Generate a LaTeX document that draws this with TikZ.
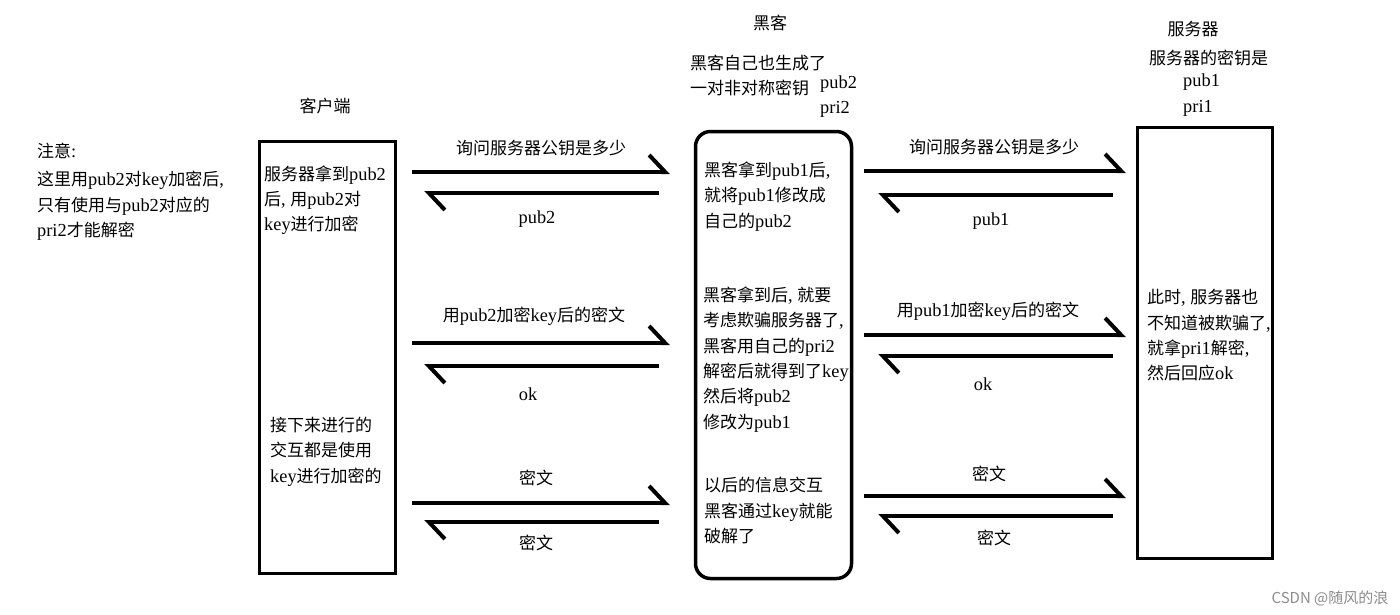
\documentclass[tikz,border=0pt]{standalone}
\usepackage{fontspec}
\setmainfont{Liberation Serif}[Scale=1.08]
\newfontfamily\cjk{Noto Sans CJK SC}
\usetikzlibrary{arrows.meta}
% Han characters are set in \cjk, everything else in the main font
\newXeTeXintercharclass\hanclass
\count255="4E00
\loop\ifnum\count255<"A000
  \XeTeXcharclass\count255=\hanclass
  \advance\count255 by 1
\repeat
\XeTeXinterchartoks 0 \hanclass = {\cjk}
\XeTeXinterchartoks 4095 \hanclass = {\cjk}
\XeTeXinterchartoks \hanclass 0 = {\rmfamily}
\XeTeXinterchartoks 4095 0 = {\rmfamily}
\XeTeXinterchartokenstate=1
\newcommand\markfont{\XeTeXinterchartokenstate=0\relax\cjk\fontsize{15}{15}\selectfont}

\begin{document}
\begin{tikzpicture}[x=1pt, y=-1pt,
  every node/.style={inner sep=0pt, font=\fontsize{17}{25.3}\selectfont},
  txt/.style={align=left, anchor=west},
  party/.style={draw, line width=3.5pt, inner sep=0pt},
  msg/.style={line width=4pt, -{Straight Barb[harpoon, length=16pt, width=34pt]}},
  toh/.style={msg, shorten <=15pt, shorten >=24pt},
  toc/.style={msg, shorten <=35pt, shorten >=27pt},
  tos/.style={msg, shorten <=11pt, shorten >=10pt},
  fromS/.style={msg, shorten <=23pt, shorten >=25pt}]
  \useasboundingbox (0,0) rectangle (1400,614);
  % the three parties
  \node[party, minimum width=136, minimum height=432] (client) at (327.5,357.5) {};
  \node[party, rounded corners=15pt, minimum width=156, minimum height=447] (hacker) at (773.5,355) {};
  \node[party, minimum width=135, minimum height=431] (server) at (1205,343) {};
  \node (clientname) at (325,106) {客户端};
  \node (hackername) at (770,23) {黑客};
  \node (servername) at (1193,29) {服务器};
  \node[txt] (hackerkeys) at (690,75.5) {黑客自己也生成了\\一对非对称密钥};
  \node[txt] (hackerpair) at (820,96.5) {pub2\\pri2};
  \node (serverkeys) at (1208.5,58) {服务器的密钥是};
  \node[txt] (serverpair) at (1183,95) {pub1\\pri1};
  % note on the left
  \node[txt] (notehead) at (37,151) {注意:};
  \node[txt] (note) at (37,206) {这里用pub2对key加密后,\\只有使用与pub2对应的\\pri2才能解密};
  % texts in the boxes
  \node[txt] (clientnote1) at (264,200) {服务器拿到pub2\\后, 用pub2对\\key进行加密};
  \node[txt] (clientnote2) at (270,451.5) {接下来进行的\\交互都是使用\\key进行加密的};
  \node[txt] (hackernote1) at (704,196.5) {黑客拿到pub1后,\\就将pub1修改成\\自己的pub2};
  \node[txt] (hackernote2) at (703,359.5) {黑客拿到后, 就要\\考虑欺骗服务器了,\\黑客用自己的pri2\\解密后就得到了key\\然后将pub2\\修改为pub1};
  \node[txt] (hackernote3) at (704,510.5) {以后的信息交互\\黑客通过key就能\\破解了};
  \node[txt] (servernote) at (1147,335.5) {此时, 服务器也\\不知道被欺骗了,\\就拿pri1解密,\\然后回应ok};
  % client <-> hacker
  \draw[toh] (client.east |- 0,172) -- (hacker.west |- 0,172);
  \draw[toc] (hacker.west |- 0,193) -- (client.east |- 0,193);
  \draw[toh] (client.east |- 0,343) -- (hacker.west |- 0,343);
  \draw[toc] (hacker.west |- 0,366) -- (client.east |- 0,366);
  \draw[toh] (client.east |- 0,503) -- (hacker.west |- 0,503);
  \draw[toc] (hacker.west |- 0,522) -- (client.east |- 0,522);
  \node (ask1) at (541,148) {询问服务器公钥是多少};
  \node (reply1) at (537,219) {pub2};
  \node (send1) at (534,316) {用pub2加密key后的密文};
  \node (ok1) at (528,394) {ok};
  \node (up1) at (536,478) {密文};
  \node (down1) at (536,543) {密文};
  % hacker <-> server
  \draw[tos] (hacker.east |- 0,171) -- (server.west |- 0,171);
  \draw[fromS] (server.west |- 0,195) -- (hacker.east |- 0,195);
  \draw[tos] (hacker.east |- 0,335) -- (server.west |- 0,335);
  \draw[fromS] (server.west |- 0,356) -- (hacker.east |- 0,356);
  \draw[tos] (hacker.east |- 0,496) -- (server.west |- 0,496);
  \draw[fromS] (server.west |- 0,516) -- (hacker.east |- 0,516);
  \node (ask2) at (994,147) {询问服务器公钥是多少};
  \node (reply2) at (991,221) {pub1};
  \node (send2) at (988,311) {用pub1加密key后的密文};
  \node (ok2) at (983,384) {ok};
  \node (up2) at (989,474) {密文};
  \node (down2) at (994,538) {密文};
  \node[text=black!45, font=\markfont] (mark) at (1330,598) {CSDN @随风的浪};
\end{tikzpicture}
\end{document}
